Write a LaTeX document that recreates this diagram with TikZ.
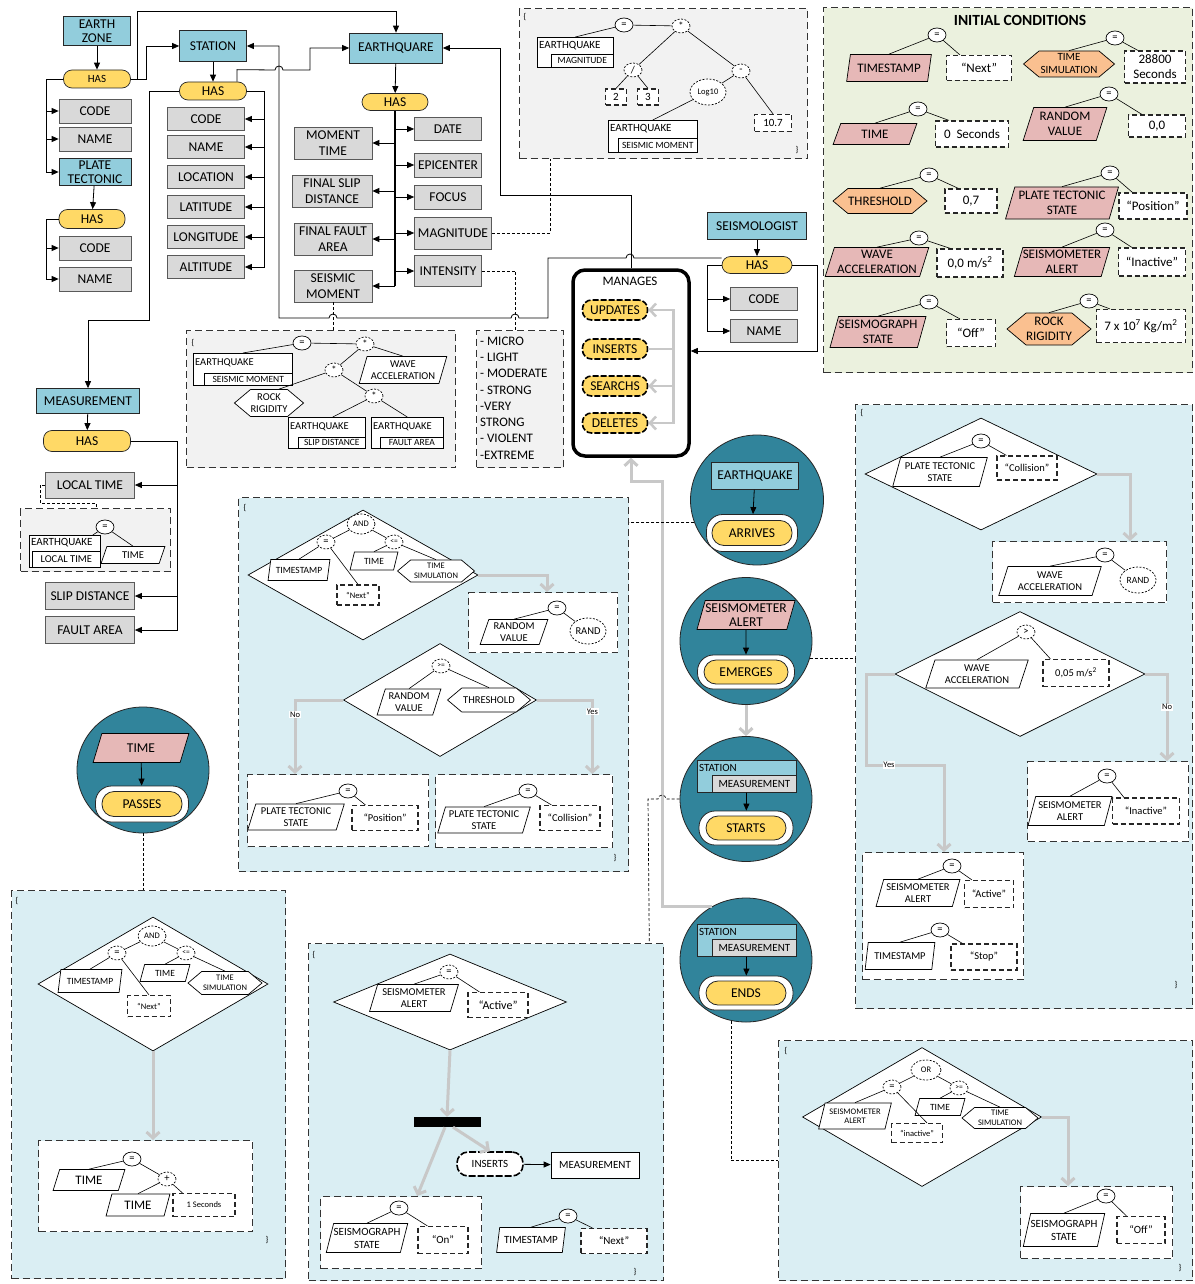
\documentclass[tikz,border=0pt]{standalone}
\usepackage{fontspec}
\setmainfont{Carlito}
\usetikzlibrary{shapes.geometric,shapes.symbols,arrows.meta}
\definecolor{entc}{RGB}{146,205,220}
\definecolor{hasc}{RGB}{255,217,102}
\definecolor{attc}{RGB}{217,217,217}
\definecolor{pinkc}{RGB}{230,184,183}
\definecolor{orgc}{RGB}{250,192,144}
\definecolor{greenbg}{RGB}{235,241,222}
\definecolor{bluebg}{RGB}{218,238,243}
\definecolor{tealc}{RGB}{49,132,155}
\definecolor{fgray}{RGB}{242,242,242}
\definecolor{arrg}{RGB}{200,200,200}
\newcommand{\fzA}{\fontsize{15.5}{18}\selectfont}
\newcommand{\fzB}{\fontsize{13.5}{15.5}\selectfont}
\newcommand{\fzC}{\fontsize{13}{15}\selectfont}
\newcommand{\fzD}{\fontsize{12}{14}\selectfont}
\newcommand{\fzE}{\fontsize{11}{13}\selectfont}
\newcommand{\fzF}{\fontsize{10.5}{12.5}\selectfont}
\newcommand{\fzG}{\fontsize{9.5}{11}\selectfont}
\newcommand{\fzH}{\fontsize{8.5}{9.5}\selectfont}
\newcommand{\fzI}{\fontsize{7.5}{8.5}\selectfont}
\newcommand{\region}[6]{\node[regbox, fill=#6, anchor=north west, minimum width=#4pt-#2pt, minimum height=#5pt-#3pt] (#1) at (#2,#3) {};}
\newcommand{\nest}[9]{%
  \node[nouter, anchor=north west, minimum width=#4pt-#2pt, minimum height=#5pt-#3pt] (#1) at (#2,#3) {};
  \node[ninner, anchor=south east, minimum width=#4pt-#6pt, minimum height=#5pt-#7pt] (#1i) at (#1.south east) {#9};
  \node[ntop, anchor=west] (#1t) at (#2+2,{(#3+#7)/2}) {#8};}
\begin{document}
\begin{tikzpicture}[x=1pt,y=-1pt,
 ent/.style={draw=black!85, fill=entc, inner sep=1pt, align=center, font=\fzB, line width=0.7pt},
 att/.style={draw=black!65, fill=attc, inner sep=1pt, align=center, font=\fzB, line width=0.7pt},
 has/.style={draw=black!85, fill=hasc, rounded corners=8.5pt, inner sep=1pt, font=\fzB, line width=0.7pt},
 regbox/.style={draw=black!80, line width=1.3pt, dash pattern=on 7pt off 4pt, inner sep=0},
 vbox/.style={draw=black!85, fill=white, line width=1.2pt, dash pattern=on 5pt off 3pt, inner sep=0.5pt, align=center, font=\fzC},
 opS/.style={ellipse, draw, fill=white, minimum width=18pt, minimum height=14pt, inner sep=0, font=\fzF, line width=0.7pt},
 opD/.style={opS, dash pattern=on 2pt off 1.5pt},
 para/.style={trapezium, trapezium left angle=70, trapezium right angle=110, trapezium stretches=true, draw, fill=white, inner sep=0, align=center, line width=0.7pt},
 paraP/.style={para, fill=pinkc},
 hexa/.style={signal, signal to=east and west, signal pointer angle=80, draw, fill=white, inner sep=0, align=center, line width=0.7pt},
 hexO/.style={hexa, fill=orgc},
 dia/.style={diamond, draw, fill=white, inner sep=0, line width=0.7pt},
 tl/.style={line width=0.6pt},
 arr/.style={line width=0.8pt, -{Triangle[length=7pt,width=6pt]}},
 garr/.style={draw=arrg, line width=3pt, -{Straight Barb[length=6pt,width=13pt]}},
 dl/.style={line width=0.7pt, dash pattern=on 3pt off 2pt},
 brace/.style={font=\fzH, inner sep=0},
 lbl/.style={font=\fzH, fill=white, inner sep=0.8pt},
 nouter/.style={draw, fill=white, inner sep=0, line width=0.6pt},
 ninner/.style={draw, fill=white, inner sep=0, line width=0.6pt, font=\fzG},
 ntop/.style={inner sep=0, font=\fzE},
 ellW/.style={ellipse, draw=black!85, fill=tealc, line width=0.8pt},
 pillW/.style={draw=black!85, fill=white, rounded corners=16pt, line width=0.8pt},
 pillY/.style={draw=black!85, fill=hasc, rounded corners=12pt, font=\fzB, line width=0.8pt, inner sep=0},
 mgpill/.style={draw=black, fill=hasc, rounded corners=9pt, line width=1.6pt, dash pattern=on 6pt off 2pt, font=\fzB, inner sep=0, minimum width=65, minimum height=20},
]
\useasboundingbox (0,0) rectangle (1194,1284);
\fill[white] (0,0) rectangle (1194,1284);

% ---------- regions ----------
\region{fmag}{519}{8}{807}{158}{fgray}
\region{init}{823}{7}{1192}{372}{greenbg}
\region{fsm}{186}{330}{455}{467}{fgray}
\region{flist}{476}{330}{563}{467}{fgray}
\region{floc}{20}{508}{170}{571}{fgray}
\region{cbox}{238}{497}{628}{871}{bluebg}
\region{rbox}{855}{404}{1192}{1008}{bluebg}
\region{blbox}{11}{890}{285}{1278}{bluebg}
\region{bcbox}{308}{943}{663}{1280}{bluebg}
\region{brbox}{778}{1040}{1192}{1280}{bluebg}

% ---------- earth zone ----------
\node[ent, minimum width=67, minimum height=29, font={\fontsize{13.5}{14.5}\selectfont}] (ez) at (97,31) {EARTH\\ZONE};
\node[has, minimum width=67, minimum height=18, font=\fzE] (ezhas) at (97,79) {HAS};
\node[att, minimum width=72, minimum height=24] (ezcode) at (95,111) {CODE};
\node[att, minimum width=72, minimum height=24] (ezname) at (95,139) {NAME};
\node[ent, minimum width=72, minimum height=27, font={\fontsize{13.5}{14.5}\selectfont}] (pt) at (95,172) {PLATE\\TECTONIC};
\node[has, minimum width=66, minimum height=19] (pthas) at (92,219) {HAS};
\node[att, minimum width=72, minimum height=24] (ptcode) at (95,248) {CODE};
\node[att, minimum width=72, minimum height=24] (ptname) at (95,279) {NAME};

% ---------- station ----------
\node[ent, minimum width=67, minimum height=31] (st) at (213,46) {STATION};
\node[has, minimum width=67, minimum height=18] (sthas) at (213,91) {HAS};
\foreach \nm/\tx/\yy in {stcode/CODE/119, stname/NAME/147, stloc/LOCATION/177, stlat/LATITUDE/207, stlon/LONGITUDE/237, stalt/ALTITUDE/267}{
  \node[att, minimum width=77, minimum height=23] (\nm) at (206,\yy) {\tx};
  \draw[arr] (sthas.east) -- ++(18,0) |- (\nm.east);
}

% ---------- earthquake ----------
\node[ent, minimum width=93, minimum height=30] (eq) at (396,48) {EARTHQUARE};
\node[has, minimum width=66, minimum height=17] (eqhas) at (395,102) {HAS};
\node[att, minimum width=78, minimum height=32] (mt) at (333,143) {MOMENT\\TIME};
\node[att, minimum width=80, minimum height=32] (fsd) at (332,191) {FINAL SLIP\\DISTANCE};
\node[att, minimum width=78, minimum height=32] (ffa) at (333,239) {FINAL FAULT\\AREA};
\node[att, minimum width=78, minimum height=32] (sm) at (333,286) {SEISMIC\\MOMENT};
\node[att, minimum width=67, minimum height=23] (date) at (448,129) {DATE};
\node[att, minimum width=67, minimum height=24] (epi) at (448,165) {EPICENTER};
\node[att, minimum width=67, minimum height=24] (focus) at (448,197) {FOCUS};
\node[att, minimum width=77, minimum height=32] (mag) at (453,233) {MAGNITUDE};
\node[att, minimum width=67, minimum height=31] (inten) at (448,271) {INTENSITY};
\draw[arr] (eq) -- (eqhas);
\draw[line width=1.2pt] (eqhas.south) -- (eqhas.south |- sm.east);
\foreach \nm in {mt,fsd,ffa,sm}{\draw[arr] (eqhas.south |- \nm.east) -- (\nm.east);}
\foreach \nm in {date,epi,focus,mag,inten}{\draw[arr] (eqhas.south |- \nm.west) -- (\nm.west);}

% ---------- top formula ----------
\node[brace] (mob) at (525,17) {\{};
\node[brace] (mcb) at (797,150) {\}};
\node[opS] (meq) at (624,25) {=};
\node[opD] (mmul) at (681,26) {*};
\nest{meqk}{537}{37}{613}{67}{551}{54}{EARTHQUAKE}{MAGNITUDE}
\node[opD] (mdiv) at (633,70) {/};
\node[opD] (mmin) at (741,71) {-};
\node[vbox, minimum width=21, minimum height=16, font=\fzE] (mtwo) at (616,97) {2};
\node[vbox, minimum width=21, minimum height=16, font=\fzE] (mthree) at (648,97) {3};
\node[opD, minimum width=36, minimum height=26, font=\fzH] (mlog) at (708,92) {Log10};
\nest{msm}{608}{120}{697}{152}{618}{138}{EARTHQUAKE}{SEISMIC MOMENT}
\node[vbox, minimum width=37, minimum height=17, font=\fzE] (mten) at (773,123) {10.7};
\draw[tl] (meq) -- (mmul);
\draw[tl] (meq) -- (meqk.north);
\draw[tl] (mmul) -- (mdiv);
\draw[tl] (mmul) -- (mmin);
\draw[tl] (mdiv) -- (mtwo.north);
\draw[tl] (mdiv) -- (mthree.north);
\draw[tl] (mmin) -- (mlog);
\draw[tl] (mmin) -- (mten.north);
\draw[tl] (mlog) -- (msm.north);

% ---------- initial conditions ----------
\node[font=\bfseries\fzA, inner sep=0] (ictitle) at (1020,20) {INITIAL CONDITIONS};
\begin{scope}[every node/.append style={font=\fzC}]
\node[paraP, minimum width=85, minimum height=27] (icts) at (889,68) {TIMESTAMP};
\node[opS] (ictse) at (937,35) {=};
\node[vbox, minimum width=65, minimum height=25] (ictsv) at (979,68) {“Next”};
\node[hexO, minimum width=91, minimum height=26, font=\fzE] (ictsim) at (1069,64) {TIME\\SIMULATION};
\node[opS] (ictsime) at (1115,38) {=};
\node[vbox, minimum width=61, minimum height=32] (ictsimv) at (1155,67) {28800\\Seconds};
\node[paraP, minimum width=84, minimum height=21] (ict) at (875,134) {TIME};
\node[opS] (icte) at (918,109) {=};
\node[vbox, minimum width=73, minimum height=26] (ictv) at (972,134) {0~ Seconds};
\node[paraP, minimum width=84, minimum height=33] (icrv) at (1065,124) {RANDOM\\VALUE};
\node[opS] (icrve) at (1109,94) {=};
\node[vbox, minimum width=57, minimum height=22] (icrvv) at (1157,126) {0,0};
\node[hexO, minimum width=94, minimum height=25] (icth) at (880,201) {THRESHOLD};
\node[opS] (icthe) at (929,175) {=};
\node[vbox, minimum width=52, minimum height=24] (icthv) at (971,201) {0,7};
\node[paraP, minimum width=113, minimum height=32] (icpts) at (1062,203) {PLATE TECTONIC\\STATE};
\node[opS] (icptse) at (1110,173) {=};
\node[vbox, minimum width=68, minimum height=26] (icptsv) at (1153,206) {“Position”};
\node[paraP, minimum width=104, minimum height=29] (icwa) at (877,262) {WAVE\\ACCELERATION};
\node[opS] (icwae) at (919,238) {=};
\node[vbox, minimum width=66, minimum height=28] (icwav) at (970,263) {0,0 m/s\textsuperscript{2}};
\node[paraP, minimum width=96, minimum height=29] (icsa) at (1062,262) {SEISMOMETER\\ALERT};
\node[opS] (icsae) at (1105,230) {=};
\node[vbox, minimum width=67, minimum height=28] (icsav) at (1152,262) {“Inactive”};
\node[paraP, minimum width=90, minimum height=31] (icsg) at (878,332) {SEISMOGRAPH\\STATE};
\node[opS] (icsge) at (929,302) {=};
\node[vbox, minimum width=49, minimum height=27] (icsgv) at (971,333) {“Off”};
\node[hexO, minimum width=84, minimum height=32] (icrr) at (1049,329) {ROCK\\RIGIDITY};
\node[opS] (icrre) at (1089,301) {=};
\node[vbox, minimum width=89, minimum height=33] (icrrv) at (1141,326) {7 x 10\textsuperscript{7} Kg/m\textsuperscript{2}};
\end{scope}
\foreach \a/\b in {icts/ictse, ictsim/ictsime, ict/icte, icrv/icrve, icth/icthe, icpts/icptse, icwa/icwae, icsa/icsae, icsg/icsge, icrr/icrre}{
  \draw[tl] (\b) -- (\a.north);
  \draw[tl] (\b) -- ([xshift=14]\a v.north west);
}

% ---------- seismic moment formula ----------
\node[brace] (sob) at (193,343) {\{};
\node[opS] (seq) at (302,343) {=};
\node[opD] (sm1) at (365,344) {*};
\begin{scope}[ntop/.style={inner sep=0, font=\fzF}]
\nest{sbx}{193}{353}{292}{385}{204}{373}{EARTHQUAKE}{SEISMIC MOMENT}
\nest{ssd}{288}{417}{365}{448}{298}{437}{EARTHQUAKE}{SLIP DISTANCE}
\nest{sfa}{371}{417}{443}{448}{380}{437}{EARTHQUAKE}{FAULT AREA}
\end{scope}
\node[para, minimum width=88, minimum height=27, font=\fzF] (swa) at (403,370) {WAVE\\ACCELERATION};
\node[opD] (sm2) at (334,370) {*};
\node[hexa, minimum width=68, minimum height=27, font=\fzF] (srr) at (269,403) {ROCK\\RIGIDITY};
\node[opD] (sm3) at (374,396) {*};
\draw[tl] (seq) -- (sm1);
\draw[tl] (seq) -- (sbx.north);
\draw[tl] (sm1) -- (swa.north);
\draw[tl] (sm1) -- (sm2);
\draw[tl] (sm2) -- ([xshift=10]srr.north);
\draw[tl] (sm2) -- (sm3);
\draw[tl] (sm3) -- ([xshift=6]ssd.north);
\draw[tl] (sm3) -- (sfa.north);

% ---------- intensity list ----------
\foreach \nm/\tx/\yy in {la/- MICRO/341, lb/- LIGHT/357, lc/- MODERATE/373, ld/- STRONG/390, le/-VERY/406, lf/STRONG/422, lg/- VIOLENT/438, lh/-EXTREME/455}{
  \node[anchor=west, inner sep=0, font=\fzC] (\nm) at (480,\yy) {\tx};
}

% ---------- measurement ----------
\node[ent, minimum width=103, minimum height=25] (meas) at (88,401) {MEASUREMENT};
\node[has, minimum width=87, minimum height=21] (mhas) at (87,441) {HAS};
\node[att, minimum width=89, minimum height=26] (mlt) at (90,485) {LOCAL TIME};
\node[att, minimum width=89, minimum height=27] (msd) at (90,596) {SLIP DISTANCE};
\node[att, minimum width=89, minimum height=27] (mfa) at (90,630) {FAULT AREA};
\draw[arr] (meas) -- (mhas);
\foreach \nm in {mlt,msd,mfa}{\draw[arr] (mhas.east) -- ++(47,0) |- (\nm.east);}
\node[opS] (fleq) at (105,527) {=};
\begin{scope}[ninner/.style={draw, fill=white, inner sep=0, line width=0.6pt, font=\fzF}]
\nest{flbx}{29}{535}{100}{567}{32}{551}{EARTHQUAKE}{LOCAL TIME}
\end{scope}
\node[para, minimum width=64, minimum height=17, font=\fzF] (flt) at (133,555) {TIME};
\draw[tl] (fleq) -- ([xshift=28]flbx.north);
\draw[tl] (fleq) -- (flt.north);
\draw[dl] (mlt.west) -- ++(-5,0) -- ++(0,18) -| ([xshift=76]floc.north west);

% ---------- seismologist ----------
\node[ent, minimum width=99, minimum height=27] (sg) at (757,226) {SEISMOLOGIST};
\node[has, minimum width=70, minimum height=17] (sghas) at (757,265) {HAS};
\node[att, minimum width=67, minimum height=23] (sgcode) at (764,299) {CODE};
\node[att, minimum width=67, minimum height=23] (sgname) at (764,331) {NAME};
\draw[arr] (sg) -- (sghas);
\draw[arr] (sghas.west) -- ++(-14,0) |- (sgcode.west);
\draw[arr] (sghas.west) -- ++(-14,0) |- (sgname.west);

% ---------- manages ----------
\node[draw, fill=white, rounded corners=12pt, line width=3.5pt, minimum width=116, minimum height=186] (mg) at (631,363) {};
\node[font=\fzC, inner sep=0] (mgl) at (630,281) {MANAGES};
\node[mgpill] (mgu) at (615,310) {UPDATES};
\node[mgpill] (mgi) at (615,349) {INSERTS};
\node[mgpill] (mgs) at (615,386) {SEARCHS};
\node[mgpill] (mgd) at (615,423) {DELETES};
\foreach \nm in {mgu,mgs,mgd}{\draw[garr, line width=2.5pt] (mgi.east) -- ++(25,0) |- (\nm.east);}
\draw[arr] (sghas.east) -- ++(25,0) |- ([yshift=12]mg.east);

% ---------- connectors top ----------
\draw[arr] (ez) -- (ezhas);
\foreach \nm in {ezcode,ezname,pt}{\draw[arr] (ezhas.west) -- ++(-17,0) |- (\nm.west);}
\draw[arr] (pt) -- (pthas);
\foreach \nm in {ptcode,ptname}{\draw[arr] (pthas.west) -- ++(-12,0) |- (\nm.west);}
\draw[arr] (st) -- (sthas);
\draw[arr] (ezhas.east) -- ++(16,0) |- (st.west);
\draw[arr] (ezhas.east) -- ++(6.5,0) -- ++(0,-68) -| (eq.north);
\draw[arr] ([xshift=24]sthas.north) -- ++(0,-12) -- (275,70) arc[start angle=180, end angle=360, radius=4] -- (310,70) |- (eq.west);
\draw[arr] (sthas.west) -- ++(-30,0) -- ++(0,229) -| (meas.north);
\draw[arr] ([yshift=7]sghas.west) -- (634,258) arc[start angle=0, end angle=-180, radius=4] -- (548,258) -- (548,318) -- (519,318) arc[start angle=0, end angle=-180, radius=4] -- (337,318) arc[start angle=0, end angle=-180, radius=4] -- (279,318) |- (st.east);
\draw[arr] (mg.north) -- ++(0,-73) -- ++(-131,0) |- (eq.east);
\draw[dl] (mag.east) -| ([xshift=31]fmag.south west);
\draw[dl] (inten.east) -| ([xshift=-4.5]flist.north);
\draw[dl] (sm.south) -- (sm.south |- fsm.north);

% ---------- circles ----------
\node[ellW, minimum width=133, minimum height=130] (c1) at (757,500) {};
\node[ent, minimum width=87, minimum height=27] (c1e) at (755,476) {EARTHQUAKE};
\node[pillW, minimum width=91, minimum height=37] (c1o) at (752,533) {};
\node[pillY, minimum width=80, minimum height=25] (c1a) at (752,533) {ARRIVES};
\draw[arr] (c1e) -- (c1o);

\node[ellW, minimum width=132, minimum height=127] (c2) at (746,641) {};
\node[paraP, minimum width=92, minimum height=29, font={\fontsize{13.5}{14}\selectfont}] (c2p) at (746,615) {SEISMOMETER\\ALERT};
\node[pillW, minimum width=97, minimum height=34] (c2o) at (746,672) {};
\node[pillY, minimum width=84, minimum height=24] (c2y) at (746,672) {EMERGES};
\draw[arr] (c2p) -- (c2o);

\begin{scope}[nouter/.style={draw=black!85, fill=entc, inner sep=0, line width=0.7pt}, ninner/.style={draw=black!85, fill=attc, inner sep=0, line width=0.7pt, font=\fzE}, ntop/.style={inner sep=0, font=\fzE}]
\node[ellW, minimum width=132, minimum height=125] (c3) at (746,799) {};
\nest{c3b}{697}{760}{796}{792}{712}{775}{STATION}{MEASUREMENT}
\node[pillW, minimum width=94, minimum height=34] (c3o) at (746,828) {};
\node[pillY, minimum width=80, minimum height=24] (c3y) at (746,828) {STARTS};
\draw[arr] (c3b) -- (c3o);
\node[ellW, minimum width=132, minimum height=124] (c4) at (746,960) {};
\nest{c4b}{697}{924}{796}{956}{712}{939}{STATION}{MEASUREMENT}
\node[pillW, minimum width=94, minimum height=34] (c4o) at (746,993) {};
\node[pillY, minimum width=80, minimum height=24] (c4y) at (746,993) {ENDS};
\draw[arr] (c4b) -- (c4o);
\end{scope}
\draw[garr] (c2.south) -- (c3.north);

\node[ellW, minimum width=132, minimum height=126] (c5) at (143,770) {};
\node[paraP, minimum width=96, minimum height=29, font=\fzB] (c5p) at (141,748) {TIME};
\node[pillW, minimum width=93, minimum height=36] (c5o) at (142,804) {};
\node[pillY, minimum width=80, minimum height=25] (c5y) at (142,804) {PASSES};
\draw[arr] (c5p) -- (c5o);

\draw[garr] (c4.122) -| (662,481) -| (mg.south);
\draw[dl] (c1.200) -- (c1.200 -| cbox.east);
\draw[dl] (c2.-15) -- (c2.-15 -| rbox.west);
\draw[dl] (c3.west) -- (666,799) arc[start angle=0, end angle=-180, radius=4] -- (648,799) -- ([xshift=-15]bcbox.north east);
\draw[dl] (c4.256) |- (brbox.west);
\draw[dl] (c5.south) -- (c5.south |- blbox.north);

% ---------- center box ----------
\node[brace] (cob) at (245,508) {\{};
\node[brace] (ccb) at (615,858) {\}};
\node[dia, minimum width=230, minimum height=130] (dia1) at (363,575) {};
\node[opD, minimum width=28, minimum height=20, font=\fzH] (cand) at (361,524) {AND};
\node[opD] (ceq) at (326,542) {=};
\node[opD, font=\fzI] (cle) at (394,542) {<=};
\node[para, minimum width=62, minimum height=21, font=\fzG] (cts) at (299,570) {TIMESTAMP};
\node[para, minimum width=48, minimum height=18, font=\fzG] (ct) at (374,561) {TIME};
\node[hexa, minimum width=77, minimum height=22, font=\fzH] (ctsim) at (436,571) {TIME\\SIMULATION};
\node[vbox, minimum width=42, minimum height=20, font=\fzH] (cnx) at (358,595) {“Next”};
\draw[tl] (cand) -- (ceq);
\draw[tl] (cand) -- (cle);
\draw[tl] (ceq) -- (cts.north);
\draw[tl] (ceq) -- (cnx.north);
\draw[tl] (cle) -- (ct.north);
\draw[tl] (cle) -- (ctsim.north);
\region{crv}{468}{592}{617}{652}{white}
\draw[garr] (dia1.east) -| ([xshift=79]crv.north west);
\node[opS] (creq) at (557,608) {=};
\node[para, minimum width=68, minimum height=25, font=\fzF] (crrv) at (514,632) {RANDOM\\VALUE};
\node[opD, minimum width=36, minimum height=26, font=\fzF] (crrand) at (588,631) {RAND};
\draw[tl] (creq) -- (crrv.north);
\draw[tl] (creq) -- (crrand);
\node[dia, minimum width=193, minimum height=113] (dia2) at (440,700) {};
\node[opD, font=\fzI] (cge) at (441,666) {>=};
\node[para, minimum width=64, minimum height=26, font=\fzF] (c2rv) at (409,702) {RANDOM\\VALUE};
\node[hexa, minimum width=83, minimum height=24, font=\fzF] (c2th) at (489,700) {THRESHOLD};
\draw[tl] (cge) -- (c2rv.north);
\draw[tl] (cge) -- (c2th.north);
\region{cpos}{247}{774}{428}{846}{white}
\region{cpc}{435}{774}{612}{847}{white}
\draw[garr] (dia2.west) -| ([xshift=48]cpos.north west) node[lbl, pos=0.6] (lno1) {No};
\draw[garr] (dia2.east) -| ([xshift=-21]cpc.north east) node[lbl, pos=0.58] (lyes1) {Yes};
\node[opS] (cpeq) at (348,791) {=};
\node[para, minimum width=97, minimum height=26, font=\fzF] (cppts) at (296,817) {PLATE TECTONIC\\STATE};
\node[vbox, minimum width=66, minimum height=25, font=\fzF] (cpv) at (385,818) {“Position”};
\draw[tl] (cpeq) -- (cppts.north);
\draw[tl] (cpeq) -- ([xshift=14]cpv.north west);
\node[opS] (cceq) at (528,791) {=};
\node[para, minimum width=93, minimum height=26, font=\fzF] (ccpts) at (484,820) {PLATE TECTONIC\\STATE};
\node[vbox, minimum width=60, minimum height=25, font=\fzF] (ccv) at (570,818) {“Collision”};
\draw[tl] (cceq) -- (ccpts.north);
\draw[tl] (cceq) -- ([xshift=12]ccv.north west);

% ---------- right box ----------
\node[brace] (rob) at (862,413) {\{};
\node[brace] (rcb) at (1176,985) {\}};
\node[dia, minimum width=232, minimum height=112] (rdia1) at (981,474) {};
\node[opS] (req) at (981,441) {=};
\node[para, minimum width=95, minimum height=29, font=\fzF] (rpts) at (940,472) {PLATE TECTONIC\\STATE};
\node[vbox, minimum width=60, minimum height=24, font=\fzF] (rv) at (1027,468) {“Collision”};
\draw[tl] (req) -- (rpts.north);
\draw[tl] (req) -- ([xshift=10]rv.north west);
\region{rwa}{992}{541}{1166}{602}{white}
\draw[garr] (rdia1.east) -| ([xshift=138]rwa.north west);
\node[opS] (rweq) at (1105,555) {=};
\node[para, minimum width=103, minimum height=29, font=\fzF] (rwwa) at (1050,581) {WAVE\\ACCELERATION};
\node[opD, minimum width=36, minimum height=26, font=\fzG] (rwrand) at (1138,580) {RAND};
\draw[tl] (rweq) -- (rwwa.north);
\draw[tl] (rweq) -- (rwrand);
\node[dia, minimum width=250, minimum height=125] (rdia2) at (1020,674) {};
\node[opD] (rgt) at (1026,632) {>};
\node[para, minimum width=103, minimum height=28, font=\fzF] (r2wa) at (977,674) {WAVE\\ACCELERATION};
\node[vbox, minimum width=66, minimum height=27, font=\fzF] (r2v) at (1076,673) {0,05 m/s\textsuperscript{2}};
\draw[tl] (rgt) -- (r2wa.north);
\draw[tl] (rgt) -- ([xshift=8]r2v.north west);
\region{ract}{862}{852}{1023}{979}{white}
\region{rina}{1027}{761}{1188}{841}{white}
\draw[garr] (rdia2.west) -- ++(-28,0) -- ++(0,91) -| ([xshift=82]ract.north west);
\node[lbl] (lyes2) at (889,765) {Yes};
\draw[garr] (rdia2.east) -| ([xshift=140]rina.north west) node[lbl, pos=0.69] (lno2) {No};
\node[opS] (raeq) at (952,866) {=};
\node[para, minimum width=84, minimum height=27, font=\fzF] (rasa) at (918,893) {SEISMOMETER\\ALERT};
\node[vbox, minimum width=49, minimum height=27, font=\fzF] (rav) at (989,894) {“Active”};
\draw[tl] (raeq) -- (rasa.north);
\draw[tl] (raeq) -- ([xshift=8]rav.north west);
\node[opS] (raeq2) at (940,930) {=};
\node[para, minimum width=70, minimum height=27, font=\fzF] (rats) at (900,956) {TIMESTAMP};
\node[vbox, minimum width=66, minimum height=26, font=\fzF] (rav2) at (984,957) {“Stop”};
\draw[tl] (raeq2) -- (rats.north);
\draw[tl] (raeq2) -- ([xshift=12]rav2.north west);
\node[opS] (rieq) at (1107,776) {=};
\node[para, minimum width=84, minimum height=29, font=\fzF] (risa) at (1070,811) {SEISMOMETER\\ALERT};
\node[vbox, minimum width=67, minimum height=26, font=\fzF] (riv) at (1146,811) {“Inactive”};
\draw[tl] (rieq) -- (risa.north);
\draw[tl] (rieq) -- ([xshift=12]riv.north west);

% ---------- bottom-left box ----------
\node[brace] (bob) at (17,901) {\{};
\node[brace] (bcb) at (267,1240) {\}};
\node[dia, minimum width=230, minimum height=134] (bdia) at (153,984) {};
\node[opD, minimum width=28, minimum height=20, font=\fzH] (band) at (152,936) {AND};
\node[opD] (beq) at (117,953) {=};
\node[opD, font=\fzI] (ble) at (186,953) {<=};
\node[para, minimum width=64, minimum height=23, font=\fzG] (bts) at (90,981) {TIMESTAMP};
\node[para, minimum width=50, minimum height=17, font=\fzG] (bt) at (165,973) {TIME};
\node[hexa, minimum width=74, minimum height=23, font=\fzH] (btsim) at (225,983) {TIME\\SIMULATION};
\node[vbox, minimum width=43, minimum height=21, font=\fzH] (bnx) at (149,1006) {“Next”};
\draw[tl] (band) -- (beq);
\draw[tl] (band) -- (ble);
\draw[tl] (beq) -- (bts.north);
\draw[tl] (beq) -- (bnx.north);
\draw[tl] (ble) -- (bt.north);
\draw[tl] (ble) -- (btsim.north);
\region{bbot}{38}{1140}{252}{1231}{white}
\draw[garr] (bdia.south) -- (bdia.south |- bbot.north);
\node[opS] (bbeq) at (132,1159) {=};
\node[para, minimum width=72, minimum height=21, font=\fzC] (bbt1) at (89,1180) {TIME};
\node[opD] (bbpl) at (167,1179) {+};
\node[para, minimum width=64, minimum height=22, font=\fzC] (bbt2) at (138,1205) {TIME};
\node[vbox, minimum width=62, minimum height=23, font=\fzH] (bbv) at (204,1205) {1 Seconds};
\draw[tl] (bbeq) -- (bbt1.north);
\draw[tl] (bbeq) -- (bbpl);
\draw[tl] (bbpl) -- (bbt2.north);
\draw[tl] (bbpl) -- ([xshift=10]bbv.north west);

% ---------- bottom-center box ----------
\node[brace] (dob) at (314,955) {\{};
\node[brace] (dcb) at (635,1272) {\}};
\node[dia, minimum width=233, minimum height=96] (cdia) at (450,1002) {};
\node[opD] (deq) at (449,972) {=};
\node[para, minimum width=89, minimum height=27, font=\fzF] (dsa) at (414,998) {SEISMOMETER\\ALERT};
\node[vbox, minimum width=60, minimum height=25, font=\fzD] (dv) at (498,1005) {“Active”};
\draw[tl] (deq) -- (dsa.north);
\draw[tl] (deq) -- ([xshift=12]dv.north west);
\node[fill=black, minimum width=67, minimum height=10, inner sep=0] (bar) at (447,1122) {};
\draw[garr] (cdia.south) -- (bar.north);
\region{cseis}{320}{1196}{481}{1268}{white}
\draw[garr] ([xshift=-2]bar.south) -- ([xshift=16]cseis.north);
\node[draw, fill=white, rounded corners=11pt, line width=1.6pt, dash pattern=on 7pt off 2pt, minimum width=66, minimum height=24, inner sep=0, font=\fzE] (dins) at (490,1164) {INSERTS};
\draw[garr] ([xshift=6]bar.south) -- (dins.north);
\node[draw, fill=white, minimum width=88, minimum height=26, inner sep=0, font=\fzE, line width=0.7pt] (dmeas) at (595,1165) {MEASUREMENT};
\draw[arr] (dins) -- (dmeas);
\node[opS] (cseq) at (399,1208) {=};
\node[para, minimum width=82, minimum height=29, font=\fzE] (cssg) at (367,1238) {SEISMOGRAPH\\STATE};
\node[vbox, minimum width=50, minimum height=27, font=\fzE] (csv) at (443,1240) {“On”};
\draw[tl] (cseq) -- (cssg.north);
\draw[tl] (cseq) -- ([xshift=10]csv.north west);
\node[opS] (cteq) at (568,1216) {=};
\node[para, minimum width=69, minimum height=25, font=\fzE] (ctts) at (531,1240) {TIMESTAMP};
\node[vbox, minimum width=66, minimum height=25, font=\fzE] (ctv) at (614,1241) {“Next”};
\draw[tl] (cteq) -- (ctts.north);
\draw[tl] (cteq) -- ([xshift=12]ctv.north west);

% ---------- bottom-right box ----------
\node[brace] (eob) at (786,1051) {\{};
\node[brace] (ecb) at (1180,1268) {\}};
\node[dia, minimum width=239, minimum height=139] (edia) at (922,1117) {};
\node[opD, minimum width=30, minimum height=20, font=\fzH] (eor) at (926,1070) {OR};
\node[opD] (eeq) at (892,1087) {=};
\node[opD, font=\fzI] (ege) at (959,1088) {>=};
\node[para, minimum width=73, minimum height=26, font=\fzH] (esa) at (855,1116) {SEISMOMETER\\ALERT};
\node[vbox, minimum width=51, minimum height=19, font=\fzH] (ein) at (917,1133) {“inactive”};
\node[para, minimum width=50, minimum height=17, font=\fzG] (et) at (940,1107) {TIME};
\node[hexa, minimum width=76, minimum height=21, font=\fzH] (etsim) at (1000,1118) {TIME\\SIMULATION};
\draw[tl] (eor) -- (eeq);
\draw[tl] (eor) -- (ege);
\draw[tl] (eeq) -- (esa.north);
\draw[tl] (eeq) -- ([xshift=10]ein.north);
\draw[tl] (ege) -- (et.north);
\draw[tl] (ege) -- (etsim.north);
\region{eoff}{1020}{1186}{1172}{1258}{white}
\draw[garr] (edia.east) -| ([xshift=48]eoff.north west);
\node[opS] (eoeq) at (1106,1196) {=};
\node[para, minimum width=82, minimum height=33, font=\fzE] (eosg) at (1064,1230) {SEISMOGRAPH\\STATE};
\node[vbox, minimum width=48, minimum height=27, font=\fzE] (eov) at (1141,1230) {“Off”};
\draw[tl] (eoeq) -- (eosg.north);
\draw[tl] (eoeq) -- ([xshift=10]eov.north west);
\end{tikzpicture}
\end{document}
